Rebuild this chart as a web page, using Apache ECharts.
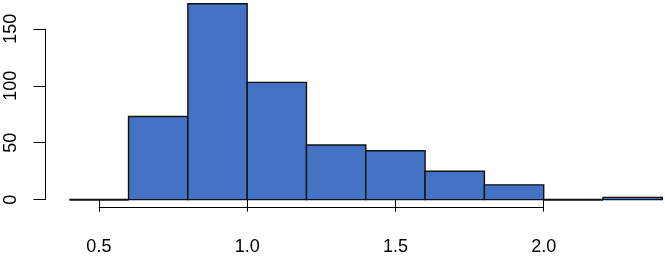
<!DOCTYPE html>
<html>
<head>
<meta charset="utf-8">
<script src="https://cdn.jsdelivr.net/npm/echarts@6/dist/echarts.min.js"></script>
<style>
  html, body { margin: 0; padding: 0; background: #fff; }
  #chart { width: 665px; height: 256px; }
</style>
</head>
<body>
<div id="chart"></div>
<script>
// 直方图的分组边界与计数
const binStarts = [0.4, 0.6, 0.8, 1.0, 1.2, 1.4, 1.6, 1.8, 2.0, 2.2]
const binWidth = 0.2
const counts = [0, 73, 172, 103, 48, 43, 25, 13, 0, 2]

// 刻度
const xTicks = [0.5, 1.0, 1.5, 2.0]
const xTickLabels = ['0.5', '1.0', '1.5', '2.0']
const yTicks = [0, 50, 100, 150]
const yTickLabels = ['0', '50', '100', '150']

// 坐标范围（左/下同 R 的 4% 延伸，右/上被图片裁掉）
const xMin = 0.32
const xMax = 2.409
const yMin = -6.88
const yMax = 175.3

const font = { fontFamily: 'Liberation Sans, Arial, Helvetica, sans-serif', fontSize: 18, color: '#000' }

const chart = echarts.init(document.getElementById('chart'))

const histData = binStarts.map((s, i) => [s, s + binWidth, counts[i]])

chart.setOption({
  animation: false,
  grid: {
    left: 45.5,
    right: 0,
    top: 0,
    bottom: 48.5,
    outerBoundsMode: 'none'
  },
  xAxis: {
    type: 'value',
    min: xMin,
    max: xMax,
    axisLine: { show: false },
    splitLine: { show: false },
    axisTick: {
      show: true,
      length: 12,
      customValues: xTicks,
      lineStyle: { color: '#000', width: 1 }
    },
    axisLabel: Object.assign({
      customValues: xTicks,
      margin: 31,
      formatter: v => xTickLabels[xTicks.indexOf(v)]
    }, font)
  },
  yAxis: {
    type: 'value',
    min: yMin,
    max: yMax,
    axisLine: { show: false },
    splitLine: { show: false },
    axisTick: {
      show: true,
      length: 12,
      customValues: yTicks,
      lineStyle: { color: '#000', width: 1 }
    },
    axisLabel: Object.assign({
      customValues: yTicks,
      rotate: 90,
      margin: 25,
      formatter: v => yTickLabels[yTicks.indexOf(v)]
    }, font)
  },
  series: [
    {
      type: 'custom',
      clip: false,
      data: histData,
      renderItem(params, api) {
        const p0 = api.coord([api.value(0), 0])
        const p1 = api.coord([api.value(1), api.value(2)])
        const h = p0[1] - p1[1]
        return {
          type: 'rect',
          shape: { x: p0[0], y: p1[1], width: p1[0] - p0[0], height: h },
          style: { fill: '#4472C4', stroke: '#111', lineWidth: h < 1 ? 2 : 1.4 }
        }
      }
    },
    {
      // x 轴线（只从第一个刻度画到最后一个刻度）
      type: 'line',
      symbol: 'none',
      clip: false,
      silent: true,
      data: [[xTicks[0], yMin], [xTicks[xTicks.length - 1], yMin]],
      lineStyle: { color: '#000', width: 1 }
    },
    {
      // y 轴线
      type: 'line',
      symbol: 'none',
      clip: false,
      silent: true,
      data: [[xMin, yTicks[0]], [xMin, yTicks[yTicks.length - 1]]],
      lineStyle: { color: '#000', width: 1 }
    }
  ]
})
</script>
</body>
</html>
